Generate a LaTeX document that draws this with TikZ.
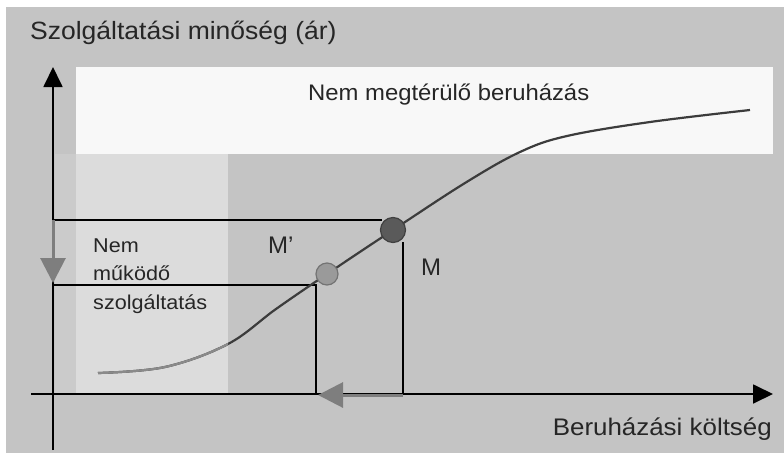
\documentclass[tikz,border=0pt]{standalone}
\usepackage{fontspec}
\setmainfont{Liberation Sans}
\newfontfamily\widesans[FakeStretch=1.06]{Liberation Sans}
\newfontfamily\widersans[FakeStretch=1.08]{Liberation Sans}
\usetikzlibrary{arrows.meta}
\definecolor{bg}{HTML}{C4C4C4}
\definecolor{boxw}{HTML}{F8F8F8}
\definecolor{lightreg}{HTML}{DCDCDC}
\definecolor{strip}{HTML}{CBCBCB}
\definecolor{curvec}{HTML}{3C3C3C}
\definecolor{curvel}{HTML}{8A8A8A}
\definecolor{garrow}{HTML}{7E7E7E}
\definecolor{dotdark}{HTML}{5A5A5A}
\definecolor{dotlight}{HTML}{9A9A9A}
\tikzset{
  axis/.style={line width=1.8pt, black, -{Triangle[length=20pt,width=19pt]}},
  guide/.style={line width=1.6pt, black},
  shiftarrow/.style={line width=3pt, garrow, -{Triangle[length=25pt,width=25pt]}},
  curve/.style={line width=2.2pt, curvec},
  dot/.style={circle, minimum size=25pt, inner sep=0pt, line width=1.2pt},
  lbl/.style={text=black!85, inner sep=0pt},
}
\begin{document}
\begin{tikzpicture}[x=1pt,y=-1pt]
\useasboundingbox (0,0) rectangle (784,453);
\fill[white] (0,0) rectangle (784,453);
\fill[bg] (6,7) rectangle (784,453);
\fill[boxw] (76,67) rectangle (773,154);
\fill[strip] (55,154) rectangle (76,393);
\fill[lightreg] (76,154) rectangle (228,393);

% guide lines
\coordinate (ytop) at (53,220);
\coordinate (ylow) at (53,285);
\coordinate (mpfoot) at (316,394);
\coordinate (mpcorner) at (316,285);
\coordinate (mtop) at (403,242);
\coordinate (mfoot) at (403,394);
\draw[guide] (ytop) -- (382,220);
\draw[guide] (ylow) -- (mpcorner) -- (mpfoot);
\draw[guide] (mtop) -- (mfoot);

% axes
\coordinate (xstart) at (31,394);
\coordinate (xend) at (773,394);
\coordinate (ystart) at (53,450);
\coordinate (yend) at (53,67);
\draw[axis] (xstart) -- (xend);
\draw[axis] (ystart) -- (yend);

% curve
\def\curvepath{plot[smooth, tension=0.6] coordinates {(98,373) (165,367) (228,344) (276,309) (327,274) (393,230) (465,183) (520,152) (567,136) (650,122) (750,110)}}
\draw[curve] \curvepath;
\begin{scope}
\clip (0,0) rectangle (228,453);
\draw[line width=2.2pt, curvel] \curvepath;
\end{scope}

% shift arrows
\coordinate (yarrs) at (53,220);
\coordinate (yarre) at (53,283);
\draw[shiftarrow] (yarrs) -- (yarre);
\coordinate (xarrs) at (403,395);
\coordinate (xarre) at (318,395);
\draw[shiftarrow] (xarrs) -- (xarre);

% dots
\node[dot, fill=dotdark, draw=black!75] (M) at (393,230) {};
\node[dot, fill=dotlight, draw=black!55, minimum size=22pt] (Mp) at (327,274) {};

% labels
\node[lbl, anchor=base west, font=\widesans\fontsize{25}{28}\selectfont] (ytitle) at (30,39) {Szolgáltatási minőség (ár)};
\node[lbl, anchor=base east, font=\widersans\fontsize{24}{28}\selectfont] (xtitle) at (772,435) {Beruházási költség};
\node[lbl, anchor=base west, font=\widesans\fontsize{22.5}{26}\selectfont] (nmb) at (308,100) {Nem megtérülő beruházás};
\node[lbl, anchor=base west, align=left, font=\widersans\fontsize{20}{28.5}\selectfont] (nms) at (93,309) {Nem\\működő\\szolgáltatás};
\node[lbl, anchor=base west, font=\fontsize{24}{28}\selectfont] (Mplbl) at (268,253) {M’};
\node[lbl, anchor=base west, font=\fontsize{24}{28}\selectfont] (Mlbl) at (421,275) {M};
\end{tikzpicture}
\end{document}
